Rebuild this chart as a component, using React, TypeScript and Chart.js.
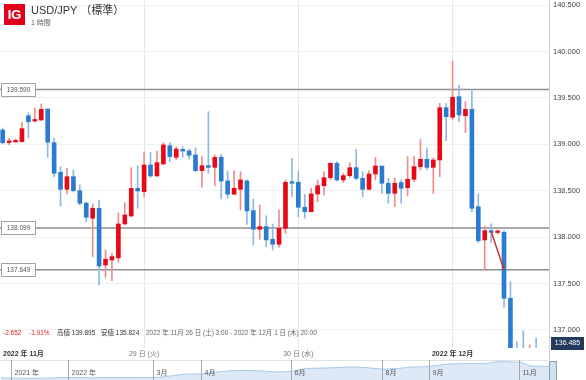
import React, { useEffect, useRef } from "react";
import { Chart, registerables } from "chart.js";

Chart.register(...registerables);

const FONT = '"Liberation Sans", "Noto Sans CJK JP", sans-serif';

// ---- hourly candles (index = hour slot) ----
const opens = [
  139.154, 139.019, 139.025, 139.028, 139.308, 139.251, 139.262, 139.38, 139.017, 138.699,
  138.515, 138.651, 138.5, 138.365, 138.203, 138.311, 137.7, 137.754, 137.776, 138.142,
  138.228, 138.526, 138.49, 138.777, 138.659, 138.788, 138.985, 138.86, 138.946, 138.928,
  138.885, 138.716, 138.77, 138.752, 138.86, 138.605, 138.462, 138.515, 138.605, 138.285,
  138.085, 138.113, 137.977, 137.923, 138.095, 138.597, 138.591, 138.322, 138.274, 138.465,
  138.554, 138.64, 138.795, 138.616, 138.662, 138.748, 138.634, 138.515, 138.68, 138.766,
  138.58, 138.472, 138.587, 138.533, 138.623, 138.759, 138.839, 138.752, 138.831, 139.394,
  139.291, 139.513, 139.308, 139.377, 138.328, 137.97, 138.07, 138.05, 138.052, 137.342,
  136.62, 136.52, 136.44, 136.53,
];
const highs = [
  139.176, 139.065, 139.06, 139.237, 139.34, 139.394, 139.434, 139.38, 139.068, 138.759,
  138.742, 138.723, 138.562, 138.382, 138.357, 138.4, 137.862, 137.826, 138.26, 138.371,
  138.748, 138.77, 138.92, 138.914, 138.928, 139.017, 139.017, 138.974, 138.974, 138.949,
  138.963, 138.874, 139.351, 138.885, 138.892, 138.713, 138.713, 138.705, 138.616, 138.411,
  138.346, 138.231, 138.142, 138.293, 138.616, 138.849, 138.713, 138.462, 138.526, 138.616,
  138.705, 138.802, 138.813, 138.688, 138.802, 138.946, 138.705, 138.716, 138.86, 138.766,
  138.634, 138.637, 138.616, 138.867, 138.874, 139.054, 138.963, 138.853, 139.442, 139.442,
  139.895, 139.639, 139.459, 139.592, 138.465, 138.12, 138.142, 138.077, 138.07, 137.52,
  136.874, 136.989, 136.839, 136.914,
];
const lows = [
  139.003, 138.993, 139.022, 139.025, 139.071, 139.237, 139.256, 138.86, 138.651, 138.336,
  138.465, 138.486, 138.346, 138.167, 137.79, 137.485, 137.568, 137.531, 137.733, 138.136,
  138.217, 138.311, 138.436, 138.645, 138.653, 138.783, 138.813, 138.831, 138.86, 138.842,
  138.705, 138.537, 138.688, 138.551, 138.411, 138.419, 138.459, 138.293, 138.136, 137.916,
  137.977, 137.897, 137.862, 137.891, 138.042, 138.436, 138.22, 138.203, 138.271, 138.382,
  138.454, 138.616, 138.605, 138.587, 138.645, 138.616, 138.436, 138.508, 138.616, 138.472,
  138.365, 138.328, 138.365, 138.443, 138.597, 138.723, 138.723, 138.472, 138.651, 139.039,
  139.262, 139.243, 139.125, 138.271, 137.94, 137.646, 137.94, 138.034, 137.245, 136.55,
  136.45, 136.4, 136.42, 136.42,
];
const closes = [
  139.017, 139.036, 139.036, 139.168, 139.243, 139.262, 139.377, 139.022, 138.688, 138.515,
  138.651, 138.5, 138.365, 138.214, 138.311, 137.689, 137.762, 137.79, 138.142, 138.239,
  138.526, 138.497, 138.777, 138.659, 138.802, 138.993, 138.867, 138.949, 138.928, 138.882,
  138.716, 138.77, 138.752, 138.86, 138.605, 138.462, 138.526, 138.616, 138.282, 138.085,
  138.113, 137.97, 137.923, 138.095, 138.591, 138.58, 138.322, 138.274, 138.465, 138.554,
  138.64, 138.795, 138.616, 138.662, 138.748, 138.634, 138.515, 138.68, 138.766, 138.58,
  138.472, 138.58, 138.526, 138.623, 138.759, 138.839, 138.752, 138.831, 139.394, 139.297,
  139.506, 139.316, 139.377, 138.311, 137.962, 138.07, 138.052, 138.059, 137.342, 136.62,
  136.5, 136.44, 136.53, 136.485,
];

const levels = [139.59, 138.099, 137.649];
const levelLabels = ["139.590", "138.099", "137.649"];
const trendIdx = [76, 78];
const trendVals = [138.062, 137.649];
const lastPrice = 136.485;

const monthStartLabel = "2022 年 11月";
const dayLabels = ["29 日 (火)", "30 日 (水)", "2022 年 12月"];
const dayLabelIdx = [22, 46, 70];
const dayLabelBold = [false, false, true];

const yMin = 136.806;
const yMax = 140.554;
const xMin = -0.42;
const xMax = 85;

// ---- navigator (days since 2022-01-01) ----
const navDays = [-45, -30, -15, 0, 15, 30, 45, 59, 70, 80, 90, 100, 110, 120, 130, 140, 151, 160, 170, 180, 190, 200, 212, 220, 230, 243, 255, 265, 280, 290, 300, 304, 310, 316, 323];
const navValues = [114.1, 113.5, 113.7, 115.1, 114.5, 115.2, 115.0, 115.2, 119.0, 122.5, 122.5, 126.5, 129.5, 130.0, 129.0, 127.0, 128.5, 134.0, 135.0, 136.0, 137.5, 136.0, 133.0, 134.0, 137.0, 139.0, 143.5, 144.5, 145.0, 149.0, 147.5, 147.5, 140.0, 139.0, 138.5];
const navLabels = ["2021 年", "2022 年", "3月", "4月", "6月", "8月", "9月", "11月"];
const navLabelDays = [-38, 0, 57, 89, 150, 211, 242, 303];

const RED = "#e60a16";
const BLUE = "#2b7bd0";
const RED_WICK = "#f08c8c";
const BLUE_WICK = "#8bb9e7";

function isUp(i: number) {
  return closes[i] >= opens[i];
}

export default function App() {
  const mainRef = useRef<HTMLCanvasElement>(null);
  const navRef = useRef<HTMLCanvasElement>(null);

  useEffect(() => {
    document.body.style.margin = "0";
    Chart.defaults.font.family = FONT;

    const idx = opens.map((_, i) => i);

    const levelPlugin = {
      id: "levels",
      beforeDatasetsDraw(chart: any) {
        const { ctx, chartArea, scales } = chart;
        ctx.save();
        ctx.strokeStyle = "#8e8e8e";
        ctx.lineWidth = 1.5;
        levels.forEach((v) => {
          const py = scales.y.getPixelForValue(v);
          ctx.beginPath();
          ctx.moveTo(chartArea.left, py);
          ctx.lineTo(chartArea.right, py);
          ctx.stroke();
        });
        ctx.restore();
      },
      afterDatasetsDraw(chart: any) {
        const { ctx, scales } = chart;
        ctx.save();
        levels.forEach((v, i) => {
          const py = scales.y.getPixelForValue(v);
          ctx.fillStyle = "#ffffff";
          ctx.strokeStyle = "#a0a0a0";
          ctx.lineWidth = 1;
          ctx.beginPath();
          ctx.rect(1.5, Math.round(py) - 6.5, 34, 13);
          ctx.fill();
          ctx.stroke();
          ctx.fillStyle = "#555";
          ctx.font = `6.5px ${FONT}`;
          ctx.textAlign = "center";
          ctx.textBaseline = "middle";
          ctx.fillText(levelLabels[i], 18.5, Math.round(py));
        });
        ctx.restore();
      },
    };

    const labelPlugin = {
      id: "xlabels",
      afterDraw(chart: any) {
        const { ctx, chartArea, scales } = chart;
        ctx.save();
        ctx.textBaseline = "middle";
        const ly = chartArea.bottom + 6.5;
        ctx.font = `bold 7px ${FONT}`;
        ctx.fillStyle = "#333";
        ctx.textAlign = "left";
        ctx.fillText(monthStartLabel, chartArea.left + 3, ly);
        dayLabels.forEach((t, i) => {
          ctx.font = `${dayLabelBold[i] ? "bold " : ""}7px ${FONT}`;
          ctx.fillStyle = dayLabelBold[i] ? "#333" : "#777";
          ctx.textAlign = "center";
          ctx.fillText(t, scales.x.getPixelForValue(dayLabelIdx[i]), ly);
        });
        // last price tag
        const yy = Math.min(scales.y.getPixelForValue(lastPrice), chartArea.bottom - 4.5);
        ctx.fillStyle = "#243a5c";
        ctx.fillRect(chartArea.right + 2, yy - 6.5, 33, 13);
        ctx.fillStyle = "#ffffff";
        ctx.font = `7px ${FONT}`;
        ctx.textAlign = "center";
        ctx.fillText(lastPrice.toFixed(3), chartArea.right + 18.5, yy);
        ctx.restore();
      },
    };

    const main = new Chart(mainRef.current as HTMLCanvasElement, {
      type: "bar",
      data: {
        datasets: [
          {
            type: "line",
            data: trendIdx.map((x, i) => ({ x, y: trendVals[i] })),
            borderColor: "#d42a2a",
            borderWidth: 1.5,
            pointRadius: 0,
            order: 0,
          } as any,
          {
            data: idx.map((i) => ({ x: i, y: [Math.min(opens[i], closes[i]), Math.max(opens[i], closes[i])] })),
            backgroundColor: idx.map((i) => (isUp(i) ? RED : BLUE)),
            barThickness: 4,
            minBarLength: 1.5,
            grouped: false,
            order: 1,
          } as any,
          {
            data: idx.map((i) => ({ x: i, y: [lows[i], highs[i]] })),
            backgroundColor: idx.map((i) => (isUp(i) ? RED_WICK : BLUE_WICK)),
            barThickness: 1,
            grouped: false,
            order: 2,
          } as any,
        ],
      },
      options: {
        responsive: false,
        animation: false,
        layout: { padding: { top: 0, left: 0, right: 0, bottom: 14 } },
        plugins: { legend: { display: false }, tooltip: { enabled: false } },
        scales: {
          x: {
            type: "linear",
            min: xMin,
            max: xMax,
            offset: false,
            ticks: { display: false },
            grid: { color: "#e6e6e6", drawTicks: false, offset: false },
            border: { display: false },
            afterBuildTicks: (s: any) => {
              s.ticks = dayLabelIdx.map((v) => ({ value: v }));
            },
            afterFit: (s: any) => {
              s.height = 0;
              s.paddingLeft = 0;
              s.paddingRight = 0;
            },
          },
          y: {
            position: "right",
            min: yMin,
            max: yMax,
            ticks: {
              stepSize: 0.5,
              includeBounds: false,
              color: "#444",
              font: { size: 7.5 },
              padding: 4,
              callback: (v: any) => Number(v).toFixed(3),
            },
            grid: { color: "#f0f0f0", drawTicks: false },
            border: { color: "#cfcfcf" },
            afterFit: (s: any) => {
              s.width = 37;
              s.paddingTop = 0;
              s.paddingBottom = 0;
            },
          },
        } as any,
      },
      plugins: [levelPlugin, labelPlugin],
    });

    const navPlugin = {
      id: "navlabels",
      afterDraw(chart: any) {
        const { ctx, scales, chartArea } = chart;
        ctx.save();
        ctx.strokeStyle = "#a8a8a8";
        ctx.lineWidth = 1;
        ctx.fillStyle = "#555";
        ctx.font = `7px ${FONT}`;
        ctx.textBaseline = "middle";
        ctx.textAlign = "left";
        navLabelDays.forEach((d, i) => {
          const px = Math.round(scales.x.getPixelForValue(d)) + 0.5;
          ctx.beginPath();
          ctx.moveTo(px, chartArea.top);
          ctx.lineTo(px, chartArea.bottom);
          ctx.stroke();
          ctx.fillText(navLabels[i], px + 3, chartArea.top + 13);
        });
        ctx.restore();
      },
    };

    const nav = new Chart(navRef.current as HTMLCanvasElement, {
      type: "line",
      data: {
        datasets: [
          {
            data: navDays.map((d, i) => ({ x: d, y: navValues[i] })),
            borderColor: "#a4c8ea",
            borderWidth: 1,
            backgroundColor: "#dde9f6",
            fill: "start",
            pointRadius: 0,
            tension: 0.2,
          },
        ],
      },
      options: {
        responsive: false,
        animation: false,
        layout: { padding: 0 },
        plugins: { legend: { display: false }, tooltip: { enabled: false } },
        scales: {
          x: { type: "linear", display: false, min: -45.6, max: 322.8 },
          y: { display: false, min: 109.8, max: 152.2 },
        },
      },
      plugins: [navPlugin],
    });

    return () => {
      main.destroy();
      nav.destroy();
    };
  }, []);

  return (
    <div
      style={{
        position: "fixed",
        left: 0,
        top: 0,
        width: 586,
        height: 380,
        background: "#fff",
        overflow: "hidden",
        fontFamily: FONT,
      }}
    >
      <canvas ref={mainRef} width={586} height={362} style={{ position: "absolute", left: 0, top: 0 }} />
      <div style={{ position: "absolute", left: 0, top: 360, width: 549, height: 1, background: "#e2e2e2" }} />
      <canvas ref={navRef} width={549} height={20} style={{ position: "absolute", left: 0, top: 360 }} />
      <div style={{ position: "absolute", left: 549, top: 348, width: 1, height: 12, background: "#cfcfcf" }} />
      <div
        style={{
          position: "absolute",
          left: 549,
          top: 361,
          width: 6,
          height: 18,
          border: "1px solid #9a9a9a",
          background: "#cfe1f4",
        }}
      />
      <div
        style={{
          position: "absolute",
          left: 4,
          top: 4,
          width: 21,
          height: 21,
          background: "#e2001a",
          color: "#fff",
          fontWeight: "bold",
          fontSize: 13,
          lineHeight: "21px",
          textAlign: "center",
          fontFamily: '"Liberation Sans", sans-serif',
        }}
      >
        IG
      </div>
      <div style={{ position: "absolute", left: 31, top: 4, fontSize: 11, color: "#333", whiteSpace: "nowrap", lineHeight: "13px" }}>
        USD/JPY （標準）
      </div>
      <div style={{ position: "absolute", left: 31, top: 18, fontSize: 7, color: "#666", whiteSpace: "nowrap", lineHeight: "9px" }}>
        1 時間
      </div>
      <div style={{ position: "absolute", top: 329, left: 0, fontSize: 6.5, lineHeight: "8px", whiteSpace: "nowrap" }}>
        <span style={{ position: "absolute", left: 3, color: "#e0201e" }}>-2.652</span>
        <span style={{ position: "absolute", left: 29, color: "#e0201e" }}>-1.91%</span>
        <span style={{ position: "absolute", left: 57, color: "#333" }}>高値 139.895</span>
        <span style={{ position: "absolute", left: 101, color: "#333" }}>安値 135.824</span>
        <span style={{ position: "absolute", left: 146, color: "#666" }}>
          2022 年 11月 26 日 (土) 3:00 - 2022 年 12月 1 日 (木) 20:00
        </span>
      </div>
    </div>
  );
}
